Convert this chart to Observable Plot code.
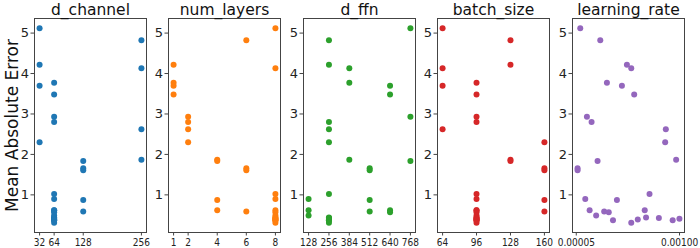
<!DOCTYPE html>
<html>
<head>
<meta charset="utf-8">
<script src="https://cdn.jsdelivr.net/npm/d3@7"></script>
<script src="https://cdn.jsdelivr.net/npm/@observablehq/plot@0.6"></script>
<style>
  html, body { margin: 0; padding: 0; background: #fff; }
  #chart { position: relative; width: 700px; height: 248px; overflow: hidden; font-family: "DejaVu Sans", sans-serif; }
  #chart svg { position: absolute; top: 0; overflow: visible; }
</style>
</head>
<body>
<div id="chart"></div>
<script>
// One entry per tuning trial: validation error and the hyperparameters used.
const mae          = [5.12, 4.82, 4.22, 4.13, 3.77, 3.70, 3.48, 2.93, 2.80, 2.62, 2.30, 1.87, 1.84, 1.66, 1.61,
                      1.02, 0.90, 0.87, 0.62, 0.62, 0.59, 0.57, 0.49, 0.44, 0.43, 0.41, 0.39, 0.37, 0.37, 0.31];
const dChannel     = [32, 256, 32, 256, 64, 32, 64, 64, 64, 256, 32, 256, 128, 128, 128,
                      64, 64, 128, 64, 64, 128, 64, 64, 64, 64, 64, 64, 64, 64, 64];
const numLayers    = [8, 6, 1, 8, 1, 1, 1, 2, 2, 2, 2, 4, 4, 6, 6,
                      8, 8, 4, 4, 8, 6, 8, 8, 8, 8, 8, 8, 8, 8, 8];
const dFfn         = [768, 256, 256, 384, 384, 640, 640, 768, 256, 256, 256, 384, 768, 512, 512,
                      256, 128, 512, 128, 640, 512, 640, 128, 256, 256, 256, 256, 256, 256, 256];
const batchSize    = [64, 128, 128, 64, 96, 64, 96, 96, 96, 64, 160, 128, 128, 160, 160,
                      96, 96, 160, 96, 96, 160, 96, 96, 96, 96, 96, 96, 96, 96, 96];
const learningRate = [0.0000868, 0.000271, 0.000516, 0.000556, 0.000332, 0.000470, 0.000583, 0.000148, 0.000191,
                      0.000874, 0.000868, 0.000969, 0.000246, 0.0000623, 0.0000623, 0.000724, 0.000133, 0.000424,
                      0.000173, 0.000680, 0.000307, 0.000349, 0.000233, 0.000692, 0.000810, 0.000999, 0.000616,
                      0.000388, 0.000937, 0.000556];

// Panel titles, colours and tick values
const paramNames   = ["d_channel", "num_layers", "d_ffn", "batch_size", "learning_rate"];
const paramColors  = ["#1f77b4", "#ff7f0e", "#2ca02c", "#d62728", "#9467bd"];
const dChannelTicks  = [32, 64, 128, 256];
const numLayersTicks = [1, 2, 4, 6, 8];
const dFfnTicks      = [128, 256, 384, 512, 640, 768];
const batchSizeTicks = [64, 96, 128, 160];
const learningRateTicks = [0.00005, 0.001];
const yTicks = [1, 2, 3, 4, 5];
const yLabel = "Mean Absolute Error";

const trials = mae.map((v, i) => ({
  mae: v,
  d_channel: dChannel[i],
  num_layers: numLayers[i],
  d_ffn: dFfn[i],
  batch_size: batchSize[i],
  learning_rate: learningRate[i]
}));

const tickSets = [dChannelTicks, numLayersTicks, dFfnTicks, batchSizeTicks, learningRateTicks];
const tickFormats = [d3.format("d"), d3.format("d"), d3.format("d"), d3.format("d"), d => d.toFixed(5)];

// Autoscaled extent with 5% padding on both sides
function padded(values) {
  const [lo, hi] = d3.extent(values);
  const m = (hi - lo) * 0.05;
  return [lo - m, hi + m];
}
const yDomain = padded(mae);

// Layout of the five panels
const frameLefts = [34, 168, 303, 437, 572];
const frameWidth = 112;
const mLeft = 34, mRight = 18, mTop = 18, mBottom = 16;

const chart = document.getElementById("chart");

paramNames.forEach((name, i) => {
  const ticks = tickSets[i];
  const svg = Plot.plot({
    width: mLeft + frameWidth + mRight,
    height: 248,
    marginTop: mTop,
    marginBottom: mBottom,
    marginLeft: mLeft,
    marginRight: mRight,
    style: { fontFamily: "'DejaVu Sans', sans-serif", color: "#222", background: "transparent", overflow: "visible" },
    x: { domain: padded(trials.map(d => d[name])) },
    y: { domain: yDomain },
    marks: [
      Plot.frame({ stroke: "#444", strokeWidth: 1 }),
      Plot.axisX({ ticks, tickFormat: tickFormats[i], tickSize: 3.5, tickPadding: 3, fontSize: 10,
                   fontFamily: "'DejaVu Sans Condensed', 'DejaVu Sans', sans-serif", label: null, stroke: "#444" }),
      Plot.axisY({ ticks: yTicks, tickFormat: d3.format("d"), tickSize: 3.5, tickPadding: 2, fontSize: 13,
                   label: null, stroke: "#444" }),
      Plot.dot(trials, { x: name, y: "mae", r: 3, fill: paramColors[i], stroke: "none" }),
      Plot.text([name], { frameAnchor: "top", lineAnchor: "bottom", dy: -4, fontSize: 15.5, fill: "#111" }),
      i === 0 ? Plot.text([yLabel], { frameAnchor: "left", textAnchor: "middle", rotate: -90, dx: -22,
                                      fontSize: 17, fill: "#111" }) : null
    ]
  });
  svg.style.left = (frameLefts[i] - mLeft) + "px";
  chart.appendChild(svg);
});
</script>
</body>
</html>
